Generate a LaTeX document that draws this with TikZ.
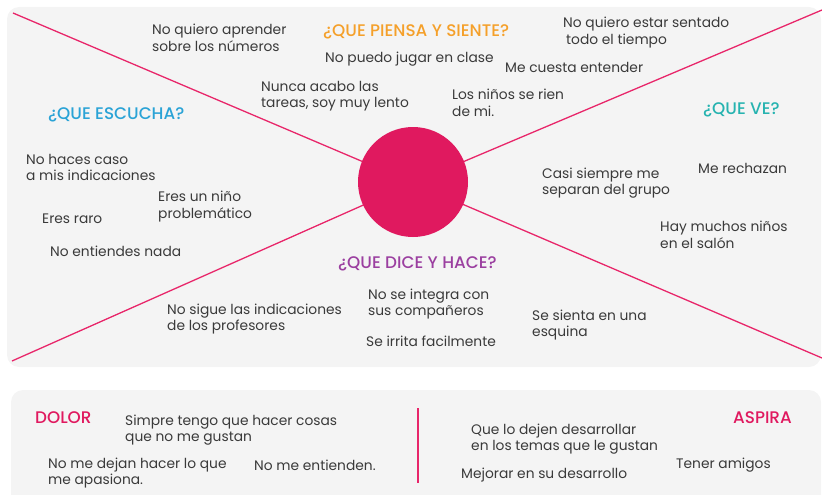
\documentclass[tikz,border=0pt]{standalone}
\usepackage{fontspec}
\setmainfont{Poppins}[BoldFont={Poppins Medium}]
\definecolor{panel}{HTML}{F4F4F4}
\definecolor{mag}{HTML}{E0195F}
\definecolor{magline}{HTML}{E8266A}
\definecolor{ink}{HTML}{3A3A3A}
\definecolor{cblue}{HTML}{2AA3D6}
\definecolor{corange}{HTML}{F5A02A}
\definecolor{cteal}{HTML}{26B3B0}
\definecolor{cpurple}{HTML}{9B3FA0}
\tikzset{
  txt/.style={anchor=west, inner sep=0pt, align=left, text=ink, font=\fontsize{13.8}{16.5}\selectfont},
  head/.style={anchor=west, inner sep=0pt, font=\fontsize{16.8}{19}\selectfont\bfseries},
  ray/.style={draw=magline, line width=1.3pt},
}
\begin{document}
\begin{tikzpicture}[x=1pt,y=-1pt]
\useasboundingbox (0,0) rectangle (822,495);
\fill[panel, rounded corners=12pt] (7,7) rectangle (821,367);
\fill[panel, rounded corners=12pt] (11,390) rectangle (821,510);
% rays
\coordinate (c) at (413,183);
\coordinate (tl) at (13,13);
\coordinate (tr) at (822,10);
\coordinate (bl) at (12,361);
\coordinate (br) at (822,358);
\draw[ray] (tl) -- (c);
\draw[ray] (tr) -- (c);
\draw[ray] (bl) -- (c);
\draw[ray] (br) -- (c);
\node[circle, fill=mag, minimum size=110pt, inner sep=0pt] (hub) at (413,182) {};
% headings
\node[head, text=corange] (hpiensa) at (323,32) {¿QUE PIENSA Y SIENTE?};
\node[head, text=cblue] (hescucha) at (48,115) {¿QUE ESCUCHA?};
\node[head, text=cteal] (hve) at (703,110) {¿QUE VE?};
\node[head, text=cpurple] (hdice) at (338,264) {¿QUE DICE Y HACE?};
% piensa
\node[txt] (p1) at (152,38) {No quiero aprender\\sobre los números};
\node[txt] (p2) at (325,59) {No puedo jugar en clase};
\node[txt] (p3) at (563,32.5) {No quiero estar sentado\\\hspace*{3pt}todo el tiempo};
\node[txt] (p4) at (505,67) {Me cuesta entender};
\node[txt] (p5) at (261,96) {Nunca acabo las\\tareas, soy muy lento};
\node[txt] (p6) at (452,103) {Los niños se rien\\de mi.};
% escucha
\node[txt] (e1) at (26,167.5) {No haces caso\\a mis indicaciones};
\node[txt] (e2) at (158,206.5) {Eres un niño\\problemático};
\node[txt] (e3) at (42,219) {Eres raro};
\node[txt] (e4) at (50,251) {No entiendes nada};
% ve
\node[txt] (v1) at (542,183) {Casi siempre me\\separan del grupo};
\node[txt] (v2) at (698,168) {Me rechazan};
\node[txt] (v3) at (660,235) {Hay muchos niños\\en el salón};
% dice
\node[txt] (d1) at (368,304) {No se integra con\\sus compañeros};
\node[txt] (d2) at (167,319) {No sigue las indicaciones\\de los profesores};
\node[txt] (d3) at (366,341) {Se irrita facilmente};
\node[txt] (d4) at (532,325) {Se sienta en una\\esquina};
% bottom
\coordinate (divt) at (418,408);
\coordinate (divb) at (418,483);
\draw[magline, line width=1.3pt] (divt) -- (divb);
\node[head, text=mag] (hdolor) at (35,418) {DOLOR};
\node[head, text=mag] (haspira) at (733,418) {ASPIRA};
\node[txt] (b1) at (125,430) {Simpre tengo que hacer cosas\\que no me gustan};
\node[txt] (b2) at (48,473) {No me dejan hacer lo que\\me apasiona.};
\node[txt] (b3) at (254,465) {No me entienden.};
\node[txt] (a1) at (471,439) {Que lo dejen desarrollar\\en los temas que le gustan};
\node[txt] (a2) at (461,475) {Mejorar en su desarrollo};
\node[txt] (a3) at (676,465) {Tener amigos};
\end{tikzpicture}
\end{document}
